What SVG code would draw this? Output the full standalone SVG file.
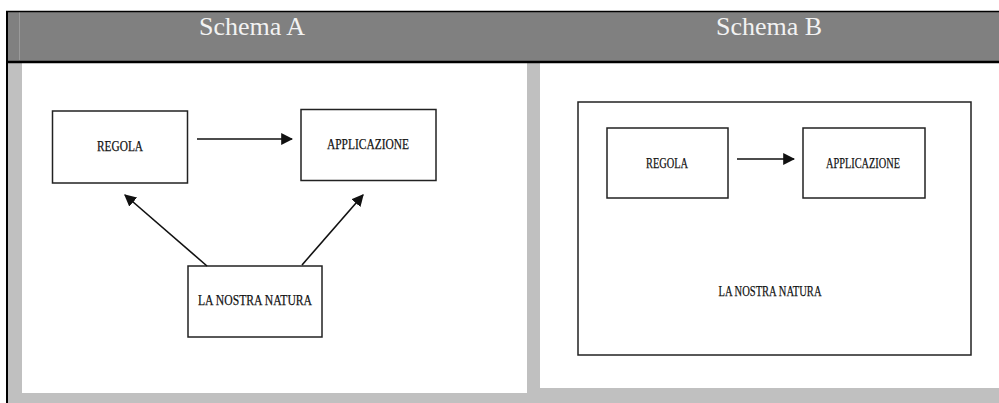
<svg xmlns="http://www.w3.org/2000/svg" width="999" height="403" viewBox="0 0 999 403">
<style>
.hdr{font-family:"Liberation Serif","Times New Roman",serif;font-size:26px;fill:#f2f2f2;text-anchor:middle}
.lbl{font-family:"Liberation Serif","Times New Roman",serif;font-size:15.5px;fill:#111;stroke:#111;stroke-width:0.25;text-anchor:middle}
.box{fill:#fff;stroke:#222;stroke-width:1.5}
.con{stroke:#111;stroke-width:1.6;fill:none;marker-end:url(#ah)}
</style>
<defs>
<marker id="ah" viewBox="0 0 10 10" refX="9" refY="5" markerWidth="7.5" markerHeight="7.5" orient="auto" markerUnits="strokeWidth">
<path d="M0,0 L10,5 L0,10 z" fill="#111"/>
</marker>
</defs>
<rect x="0" y="0" width="999" height="403" fill="#fff"/>
<!-- table frame -->
<rect x="7" y="11" width="992" height="51" fill="#808080"/>
<line x1="19.5" y1="12" x2="19.5" y2="60" stroke="#9a9a9a" stroke-width="1"/>
<rect x="8" y="63" width="991" height="340" fill="#c0c0c0"/>
<rect x="22" y="63" width="505" height="330" fill="#fff"/>
<rect x="540" y="63" width="459" height="325" fill="#fff"/>
<line x1="6" y1="11.5" x2="999" y2="11.5" stroke="#000" stroke-width="1.5"/>
<line x1="6" y1="62" x2="999" y2="62" stroke="#000" stroke-width="2.5"/>
<line x1="7" y1="11" x2="7" y2="403" stroke="#000" stroke-width="2"/>
<text class="hdr" x="252" y="35">Schema A</text>
<text class="hdr" x="769" y="35">Schema B</text>
<!-- Schema A -->
<g id="a-regola">
<rect class="box" x="52.5" y="111" width="135" height="72"/>
<text class="lbl" x="120" y="151" textLength="46" lengthAdjust="spacingAndGlyphs">REGOLA</text>
</g>
<g id="a-applicazione">
<rect class="box" x="301" y="109.5" width="135" height="71"/>
<text class="lbl" x="368" y="149" textLength="82" lengthAdjust="spacingAndGlyphs">APPLICAZIONE</text>
</g>
<g id="a-natura">
<rect class="box" x="188" y="266" width="134" height="71"/>
<text class="lbl" x="255" y="305" textLength="114" lengthAdjust="spacingAndGlyphs">LA NOSTRA NATURA</text>
</g>
<!-- Schema B -->
<g id="b-natura">
<rect class="box" x="578" y="102" width="393" height="253"/>
<text class="lbl" x="770" y="296" textLength="103" lengthAdjust="spacingAndGlyphs">LA NOSTRA NATURA</text>
</g>
<g id="b-regola">
<rect class="box" x="607" y="128" width="121" height="70"/>
<text class="lbl" x="667" y="168" textLength="42" lengthAdjust="spacingAndGlyphs">REGOLA</text>
</g>
<g id="b-applicazione">
<rect class="box" x="803" y="128" width="122" height="70"/>
<text class="lbl" x="863" y="168" textLength="74" lengthAdjust="spacingAndGlyphs">APPLICAZIONE</text>
</g>
<g id="connectors">
<line class="con" x1="197" y1="139" x2="292" y2="139"/>
<line class="con" x1="207" y1="266" x2="125" y2="195"/>
<line class="con" x1="302" y1="265" x2="363" y2="195"/>
<line class="con" x1="737" y1="159" x2="794" y2="159"/>
</g>
</svg>
